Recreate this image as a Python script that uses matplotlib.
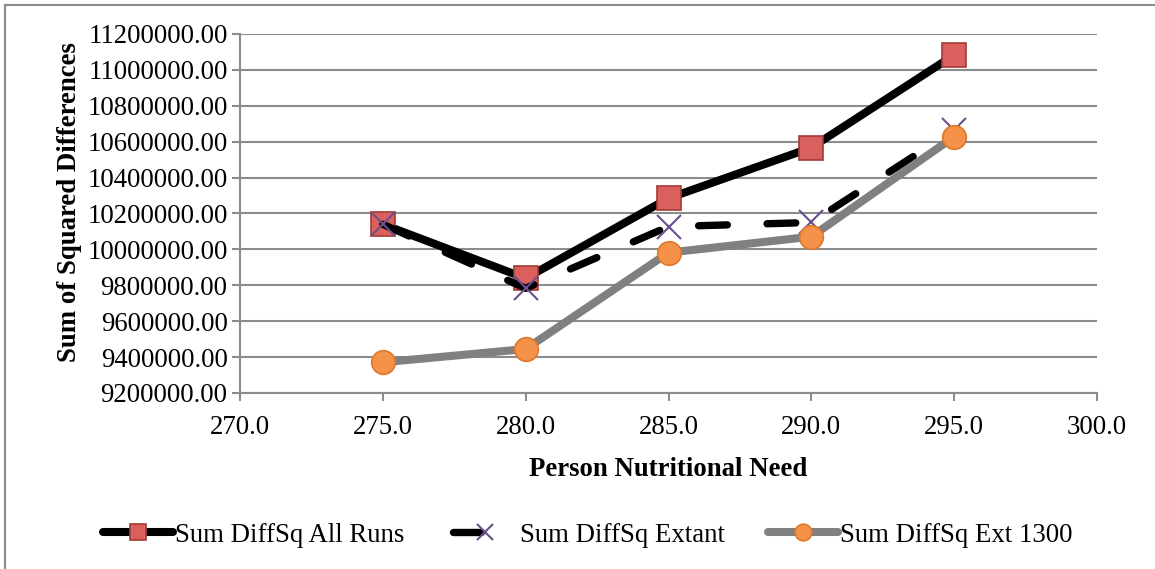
import matplotlib
matplotlib.use("Agg")
import matplotlib.pyplot as plt
from matplotlib.lines import Line2D
from matplotlib.legend_handler import HandlerLine2D

x_need = [275, 280, 285, 290, 295]
all_runs = [10140000, 9839000, 10285000, 10567000, 11083000]
extant = [10140000, 9783000, 10127000, 10150000, 10665000]
ext_1300 = [9371000, 9445000, 9982000, 10071000, 10628000]
series_names = ["Sum DiffSq All Runs", "Sum DiffSq Extant", "Sum DiffSq Ext 1300"]
x_ticks = [270, 275, 280, 285, 290, 295, 300]
y_ticks = [9200000 + 200000 * i for i in range(11)]

plt.rcParams['font.family'] = ['Liberation Serif', 'DejaVu Serif']

W, H = 1155, 569
fig = plt.figure(figsize=(W / 100, H / 100), dpi=100)
ax = fig.add_axes([240 / W, 1 - 393 / H, (1097 - 240) / W, (393 - 34) / H])

grid_c = '#8c8c8c'
fs = 19.3
x_col = '#6a4f8e'

ax.plot(x_need, all_runs, color='black', lw=5.8, solid_capstyle='round',
        marker='s', ms=17, mfc='#d9605c', mec='#a33a37', mew=1.2, zorder=3)
ax.plot(x_need, extant, color='black', lw=5.3, dashes=(3.9, 5.4), dash_capstyle='round',
        marker='x', ms=17, mec=x_col, mew=1.5, zorder=4)
ax.plot(x_need, ext_1300, color='#808080', lw=5.8, solid_capstyle='round',
        marker='o', ms=17, mfc='#f5924a', mec='#e0782a', mew=1.2, zorder=5)

ax.set_xlim(270, 300)
ax.set_ylim(9200000, 11200000)
ax.set_xticks(x_ticks)
ax.set_xticklabels([f"{v:.1f}" for v in x_ticks], fontsize=fs)
ax.set_yticks(y_ticks)
ax.set_yticklabels([f"{v:.2f}" for v in y_ticks], fontsize=fs)
ax.grid(axis='y', color=grid_c, lw=1.5)
ax.set_axisbelow(True)
for s in ['top', 'right']:
    ax.spines[s].set_visible(False)
for s in ['left', 'bottom']:
    ax.spines[s].set_color(grid_c)
    ax.spines[s].set_linewidth(1.5)
ax.tick_params(axis='both', color=grid_c, width=1.5, length=6, pad=3)
ax.tick_params(axis='x', pad=10)

ax.set_xlabel("Person Nutritional Need", fontsize=fs, fontweight='bold', labelpad=12)
fig.text(70 / W, 1 - 202 / H, "Sum of Squared Differences", rotation=90,
         fontsize=fs, fontweight='bold', ha='center', va='center')


class ExtantHandler(HandlerLine2D):
    def create_artists(self, legend, orig_handle, xdescent, ydescent, width, height,
                       fontsize, trans):
        y = height / 2 - ydescent
        x0 = -xdescent
        line = Line2D([x0 + 4, x0 + width * 0.47], [y, y], color='black', lw=5.3,
                      solid_capstyle='round', transform=trans)
        mk = Line2D([x0 + width * 0.53], [y], ls='none', marker='x', ms=12,
                    mec=x_col, mew=1.5, transform=trans)
        return [line, mk]


h1 = Line2D([], [], color='black', lw=5.8, solid_capstyle='round', marker='s', ms=12,
            mfc='#d9605c', mec='#a33a37', mew=1.2)
h2 = Line2D([], [], color='black', lw=5.3, marker='x', ms=12, mec=x_col, mew=1.5)
h3 = Line2D([], [], color='#808080', lw=5.8, solid_capstyle='round', marker='o', ms=12,
            mfc='#f5924a', mec='#e0782a', mew=1.2)
fig.legend([h1, h2, h3], series_names, loc='center', bbox_to_anchor=(588 / W, 1 - 535 / H),
           ncol=3, frameon=False, fontsize=fs, handlelength=2.6, handletextpad=0.1,
           columnspacing=1.6, handler_map={h2: ExtantHandler()})

fig.add_artist(Line2D([5 / W, 1], [1 - 5 / H, 1 - 5 / H], transform=fig.transFigure,
                      color='#8c8c8c', lw=1.5))
fig.add_artist(Line2D([5 / W, 5 / W], [0, 1 - 5 / H], transform=fig.transFigure,
                      color='#8c8c8c', lw=1.5))

fig.savefig("out.png", dpi=100)
